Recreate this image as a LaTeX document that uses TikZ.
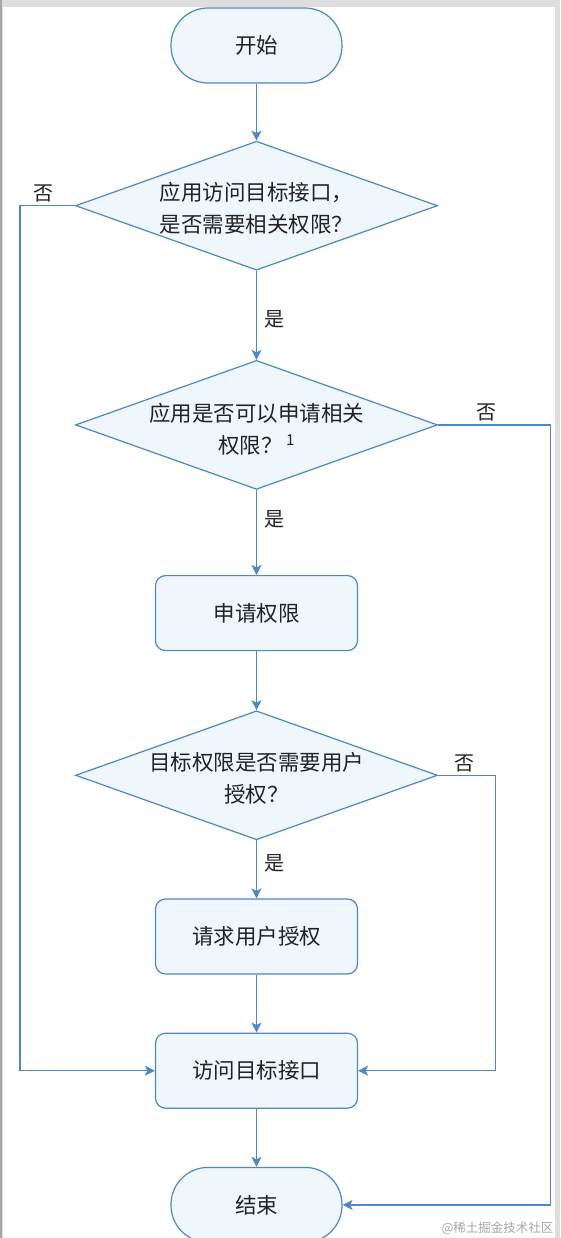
\documentclass[tikz,border=0pt]{standalone}
\usepackage{fontspec}
\newfontfamily\cjk{Noto Sans CJK SC}
\usepackage{xcolor}
\usepackage{tikz}
\usetikzlibrary{shapes.geometric, arrows.meta, positioning}

\definecolor{lineblue}{HTML}{4F86C6}
\definecolor{fillblue}{HTML}{EFF6FC}
\definecolor{txtdark}{HTML}{222222}
\definecolor{frame}{HTML}{DEDEDE}

\begin{document}
\begin{tikzpicture}[
    node distance=58pt,
    every node/.style={font=\cjk\fontsize{21.5}{32}\selectfont, text=txtdark},
    terminal/.style={rectangle, draw=lineblue, fill=fillblue, line width=1.2pt, minimum width=171pt, minimum height=75pt, rounded corners=37pt},
    decision/.style={diamond, draw=lineblue, fill=fillblue, line width=1.2pt, minimum width=362pt, minimum height=129pt, inner sep=0pt},
    qtext/.style={align=center, inner sep=0pt},
    process/.style={rectangle, draw=lineblue, fill=fillblue, line width=1.2pt, minimum width=202pt, minimum height=75pt, rounded corners=10pt},
    arrow/.style={-{Stealth[length=10pt, width=10pt, inset=2.5pt]}, draw=lineblue, line width=1.2pt},
    lbl/.style={font=\cjk\fontsize{20}{24}\selectfont}
]
% page frame
\useasboundingbox (0,0) rectangle (560pt,-1238pt);
\fill[frame] (0,0) rectangle (560pt,-1238pt);
\fill[gray!70] (0,0) rectangle (2pt,-1238pt);
\fill[white] (2.5pt,-7pt) rectangle (555pt,-1238pt);

\node[terminal] (start) at (256.5pt,-45.5pt) {开始};
\node[decision, below=57pt of start] (ask) {};
\node[qtext] (askt) at ([yshift=-3pt]ask.center) {应用访问目标接口，\\是否需要相关权限？};
\node[decision, below=89pt of ask] (canreq) {};
\node[qtext] (canreqt) at ([yshift=-4pt]canreq.center) {应用是否可以申请相关\\权限？\,\textsuperscript{1}};
\node[process, below=85pt of canreq] (apply) {申请权限};
\node[decision, below=59pt of apply] (needuser) {};
\node[qtext] (needusert) at ([yshift=-3pt]needuser.center) {目标权限是否需要用户\\授权？};
\node[process, below=58pt of needuser] (grant) {请求用户授权};
\node[process, below=58pt of grant] (access) {访问目标接口};
\node[terminal, below=58pt of access] (stop) {结束};

\draw[arrow] (start) -- (ask);
\draw[arrow] (ask) -- node[lbl, right=4pt, pos=0.55] (yes1) {是} (canreq);
\draw[arrow] (canreq) -- node[lbl, right=4pt, pos=0.35] (yes2) {是} (apply);
\draw[arrow] (apply) -- (needuser);
\draw[arrow] (needuser) -- node[lbl, right=4pt, pos=0.4] (yes3) {是} (grant);
\draw[arrow] (grant) -- (access);
\draw[arrow] (access) -- (stop);

% the "no" branches
\draw[arrow] (ask.west) -- node[lbl, above, pos=0.58] (no1) {否} ++(-55pt,0) |- (access.west);
\draw[arrow] (canreq.east) -- node[lbl, above, pos=0.43] (no2) {否} ++(112pt,0) |- (stop.east);
\draw[arrow] (needuser.east) -- node[lbl, above=-1pt, pos=0.47] (no3) {否} ++(57pt,0) |- (access.east);

\node[font=\cjk\fontsize{12.5}{14}\selectfont, text=gray!70, anchor=east] (mark) at (557pt,-1228pt) {@稀土掘金技术社区};
\end{tikzpicture}
\end{document}
